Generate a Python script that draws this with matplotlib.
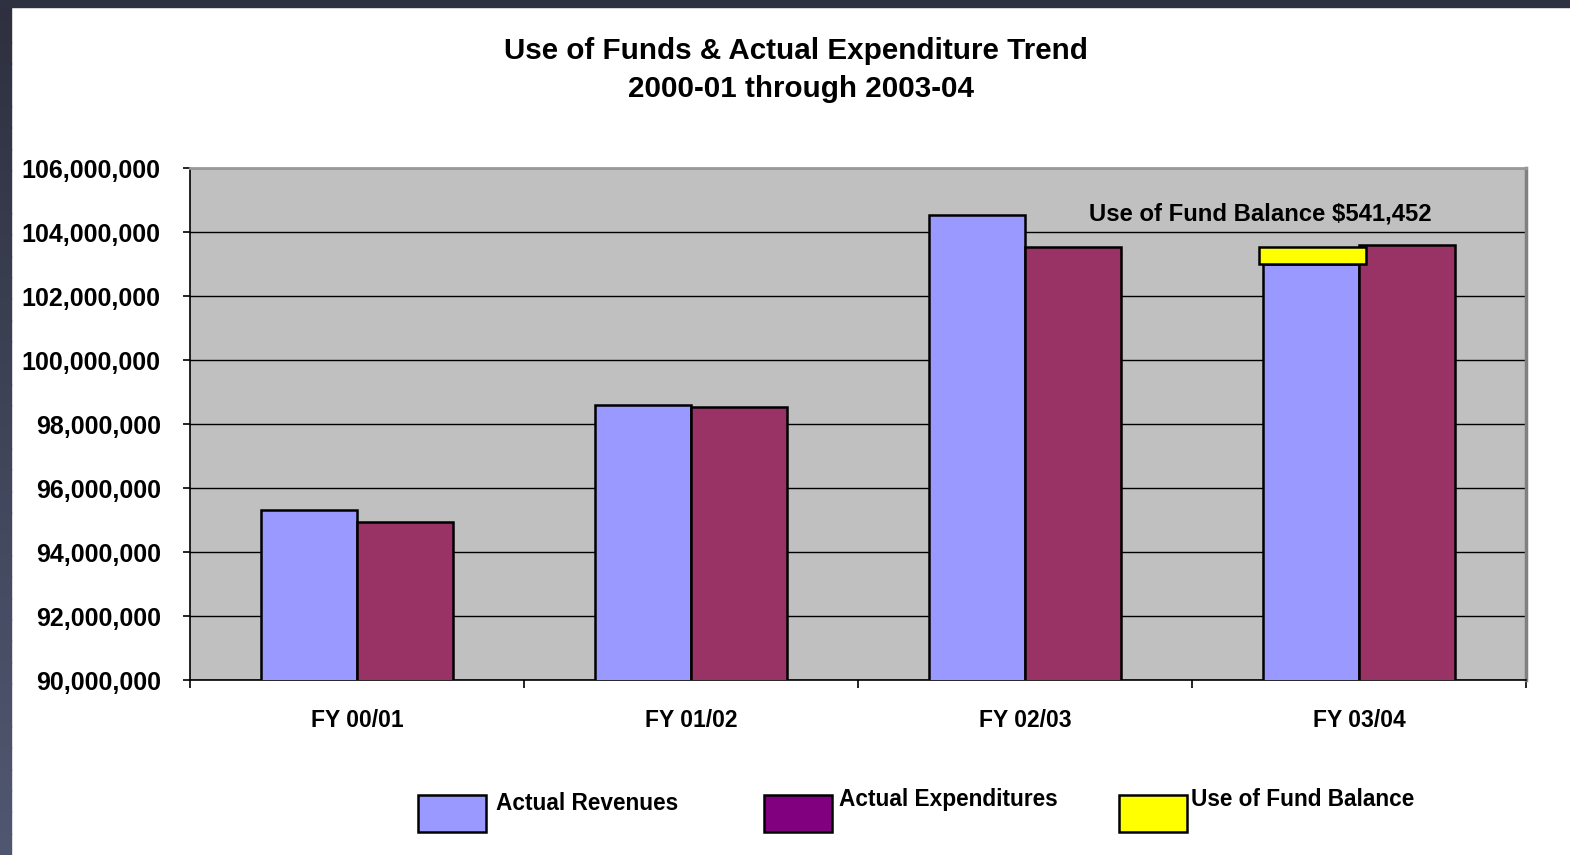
import matplotlib
matplotlib.use("Agg")
import matplotlib.pyplot as plt
import numpy as np
from matplotlib.patches import Rectangle
from matplotlib.ticker import FuncFormatter

plt.rcParams['font.family'] = ['Liberation Sans', 'DejaVu Sans']

# Data
categories = ["FY 00/01", "FY 01/02", "FY 02/03", "FY 03/04"]
actual_revenues = [95_310_000, 98_590_000, 104_530_000, 103_000_000]
actual_expenditures = [94_940_000, 98_530_000, 103_530_000, 103_590_000]
fund_balance_used = [0, 0, 0, 541_452]
y_ticks = list(range(90_000_000, 106_000_001, 2_000_000))

W, H = 1570, 855
fig = plt.figure(figsize=(W / 100, H / 100), dpi=100)
fig.patch.set_facecolor("white")

# dark frame along the top and left edges
n = 40
for k in range(n):
    t = k / (n - 1)
    c = (0.18 + 0.13 * t, 0.19 + 0.15 * t, 0.25 + 0.19 * t)
    fig.patches.append(Rectangle((0, 1 - (k + 1) / n), 11 / W, 1 / n + 0.001,
                                 transform=fig.transFigure, color=c, zorder=0))
fig.patches.append(Rectangle((0, 1 - 7 / H), 1, 7 / H, transform=fig.transFigure,
                             color="#2d3140", zorder=0))

ax = fig.add_axes([190 / W, 1 - 680 / H, (1526 - 190) / W, (680 - 168) / H])
ax.set_facecolor("#C0C0C0")

x = np.arange(len(categories))
w = 0.287
ax.bar(x - w / 2, actual_revenues, width=w, color="#9999FF", edgecolor="black",
       linewidth=1.8, zorder=3)
ax.bar(x + w / 2, actual_expenditures, width=w, color="#993366", edgecolor="black",
       linewidth=1.8, zorder=3)

# fund balance drawn on top of revenues where it was used
for i, amt in enumerate(fund_balance_used):
    if amt > 0:
        ax.bar(x[i] - w / 2 + 0.005, amt, width=w * 1.12, bottom=actual_revenues[i],
               color="#FFFF00", edgecolor="black", linewidth=1.8, zorder=4)
        ax.text(x[i] - 0.294, 104_570_000,
                "Use of Fund Balance ${:,}".format(amt),
                ha="center", va="center", fontsize=17.2, fontweight="bold", zorder=5)

ax.set_ylim(y_ticks[0], y_ticks[-1])
ax.set_yticks(y_ticks)
ax.yaxis.set_major_formatter(FuncFormatter(lambda v, p: "{:,.0f}".format(v)))
ax.tick_params(axis="y", direction="out", length=5, width=1.2, pad=16,
               labelsize=18)
for lab in ax.get_yticklabels():
    lab.set_fontweight("bold")
ax.yaxis.grid(True, color="black", linewidth=1.0, zorder=1)
ax.set_axisbelow(True)

ax.set_xlim(-0.5, len(categories) - 0.5)
ax.set_xticks(np.arange(-0.5, len(categories)), labels=[""] * (len(categories) + 1))
ax.set_xticks(x, labels=categories, minor=True)
ax.tick_params(axis="x", which="major", direction="out", length=6, width=1.2)
ax.tick_params(axis="x", which="minor", length=0, pad=21, labelsize=16.5)
for lab in ax.get_xticklabels(minor=True):
    lab.set_fontweight("bold")

for side in ("left", "bottom"):
    ax.spines[side].set_color("black")
    ax.spines[side].set_linewidth(1.2)
ax.spines["top"].set_color("#999999")
ax.spines["top"].set_linewidth(2.0)
ax.spines["right"].set_color("#808080")
ax.spines["right"].set_linewidth(2.5)

fig.text(796 / W, 1 - 51 / H, "Use of Funds & Actual Expenditure Trend",
         ha="center", va="center", fontsize=21.3, fontweight="bold")
fig.text(801 / W, 1 - 89 / H, "2000-01 through 2003-04",
         ha="center", va="center", fontsize=21.3, fontweight="bold")

# legend: swatch left edge, text left edge, text centre line
legend_items = [
    ("Actual Revenues", "#9999FF", 418, 496, 803),
    ("Actual Expenditures", "#800080", 764, 839, 799),
    ("Use of Fund Balance", "#FFFF00", 1119, 1191, 799),
]
for label, color, x0, tx, ty in legend_items:
    fig.patches.append(Rectangle((x0 / W, 1 - 832 / H), 68 / W, 37 / H,
                                 transform=fig.transFigure, facecolor=color,
                                 edgecolor="black", linewidth=1.8, zorder=3))
    fig.text(tx / W, 1 - ty / H, label, ha="left", va="center",
             fontsize=16.3, fontweight="bold")

fig.savefig("out.png", dpi=100)
